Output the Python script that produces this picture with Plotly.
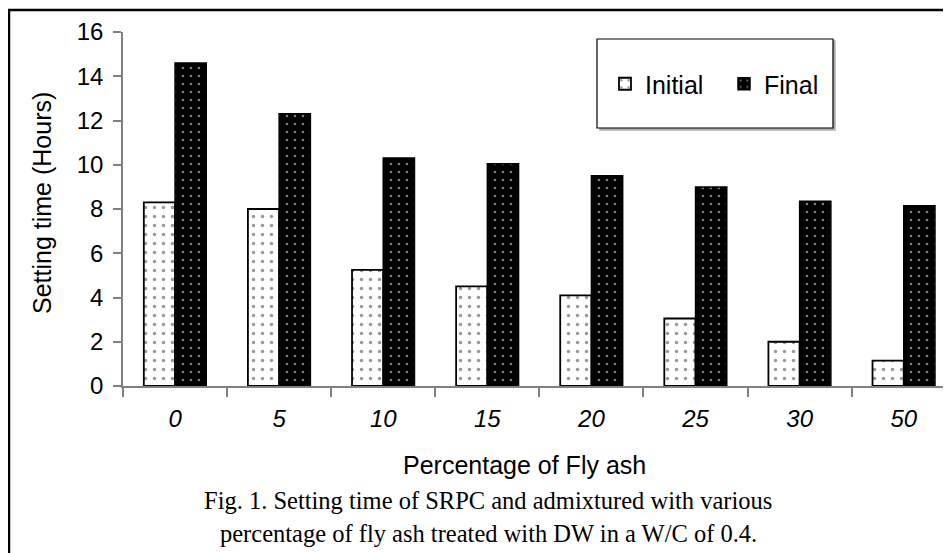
import plotly.graph_objects as go

categories = ["0", "5", "10", "15", "20", "25", "30", "50"]
initial = [8.3, 8.0, 5.25, 4.5, 4.1, 3.05, 2.0, 1.15]
final = [14.6, 12.3, 10.3, 10.05, 9.5, 9.0, 8.35, 8.15]
y_ticks = [0, 2, 4, 6, 8, 10, 12, 14, 16]

# page has an 8px body margin; work in page pixels and convert
O = 8
W, H = 951 - O, 553 - O
L, T = 123 - O, 32 - O
R = 0
B = H - (386 - O)
PW = W - L - R
PH = H - T - B


def px(x):
    return (x - O - L) / PW


def py(y):
    return (H - B - (y - O)) / PH


fig = go.Figure()
fig.add_trace(go.Bar(
    name="Initial", x=categories, y=initial,
    marker=dict(color="white", line=dict(color="black", width=1.8),
                pattern=dict(shape=".", fgcolor="#333333", bgcolor="white",
                             size=9, solidity=0.12)),
))
fig.add_trace(go.Bar(
    name="Final", x=categories, y=final,
    marker=dict(color="black", line=dict(color="black", width=1.5),
                pattern=dict(shape=".", fgcolor="white", bgcolor="black",
                             size=8, solidity=0.08)),
))

font_sans = "Liberation Sans, Arial, sans-serif"
font_serif = "Liberation Serif, Times New Roman, serif"

fig.update_layout(
    width=W, height=H,
    margin=dict(l=L, r=R, t=T, b=B, autoexpand=False),
    paper_bgcolor="white", plot_bgcolor="white",
    barmode="group", bargap=0.4, bargroupgap=0,
    font=dict(family=font_sans, size=24, color="black"),
    showlegend=True,
    legend=dict(orientation="h", x=px(605), y=py(84), xanchor="left", yanchor="middle",
                bgcolor="rgba(0,0,0,0)", borderwidth=0,
                font=dict(size=25, family=font_sans),
                entrywidth=74, entrywidthmode="pixels", traceorder="normal"),
    xaxis=dict(type="category", range=[-0.5, 7.454], showline=True, linecolor="#808080",
               linewidth=1.5, ticks="outside", tickson="boundaries", ticklen=9,
               tickcolor="#808080", tickwidth=1.5, showgrid=False, zeroline=False,
               tickfont=dict(size=24, family=font_sans, style="italic"),
               ticklabelstandoff=10, automargin=False),
    yaxis=dict(range=[0, 16], tickvals=y_ticks, showline=True, linecolor="#808080",
               linewidth=1.5, ticks="outside", ticklen=8, tickcolor="#808080",
               tickwidth=1.5, showgrid=False, zeroline=False,
               tickfont=dict(size=24, family=font_sans), ticklabelstandoff=5,
               automargin=False),
    shapes=[
        dict(type="rect", xref="paper", yref="paper", x0=px(9), x1=px(970),
             y0=py(570), y1=py(10), line=dict(color="black", width=2.5),
             fillcolor="rgba(0,0,0,0)", layer="below"),
        dict(type="rect", xref="paper", yref="paper", x0=px(600), x1=px(835),
             y0=py(130), y1=py(41), line=dict(color="#b0b0b0", width=1.5),
             fillcolor="#b0b0b0", layer="below"),
        dict(type="rect", xref="paper", yref="paper", x0=px(597), x1=px(833),
             y0=py(128), y1=py(39), line=dict(color="black", width=1.2),
             fillcolor="white", layer="below"),
    ],
    annotations=[
        dict(text="Setting time (Hours)", xref="paper", yref="paper", x=px(42), y=py(203),
             textangle=-90, showarrow=False, font=dict(size=25, family=font_sans),
             xanchor="center", yanchor="middle"),
        dict(text="Percentage of Fly ash", xref="paper", yref="paper", x=px(524), y=py(465),
             showarrow=False, font=dict(size=25, family=font_sans),
             xanchor="center", yanchor="middle"),
        dict(text="Fig. 1. Setting time of SRPC and admixtured with various", xref="paper",
             yref="paper", x=px(488), y=py(500), showarrow=False,
             font=dict(size=24.5, family=font_serif), xanchor="center", yanchor="middle"),
        dict(text="percentage of fly ash treated with DW in a W/C of 0.4.", xref="paper",
             yref="paper", x=px(488), y=py(533), showarrow=False,
             font=dict(size=24.5, family=font_serif), xanchor="center", yanchor="middle"),
    ],
)

fig.write_html("out.html")
